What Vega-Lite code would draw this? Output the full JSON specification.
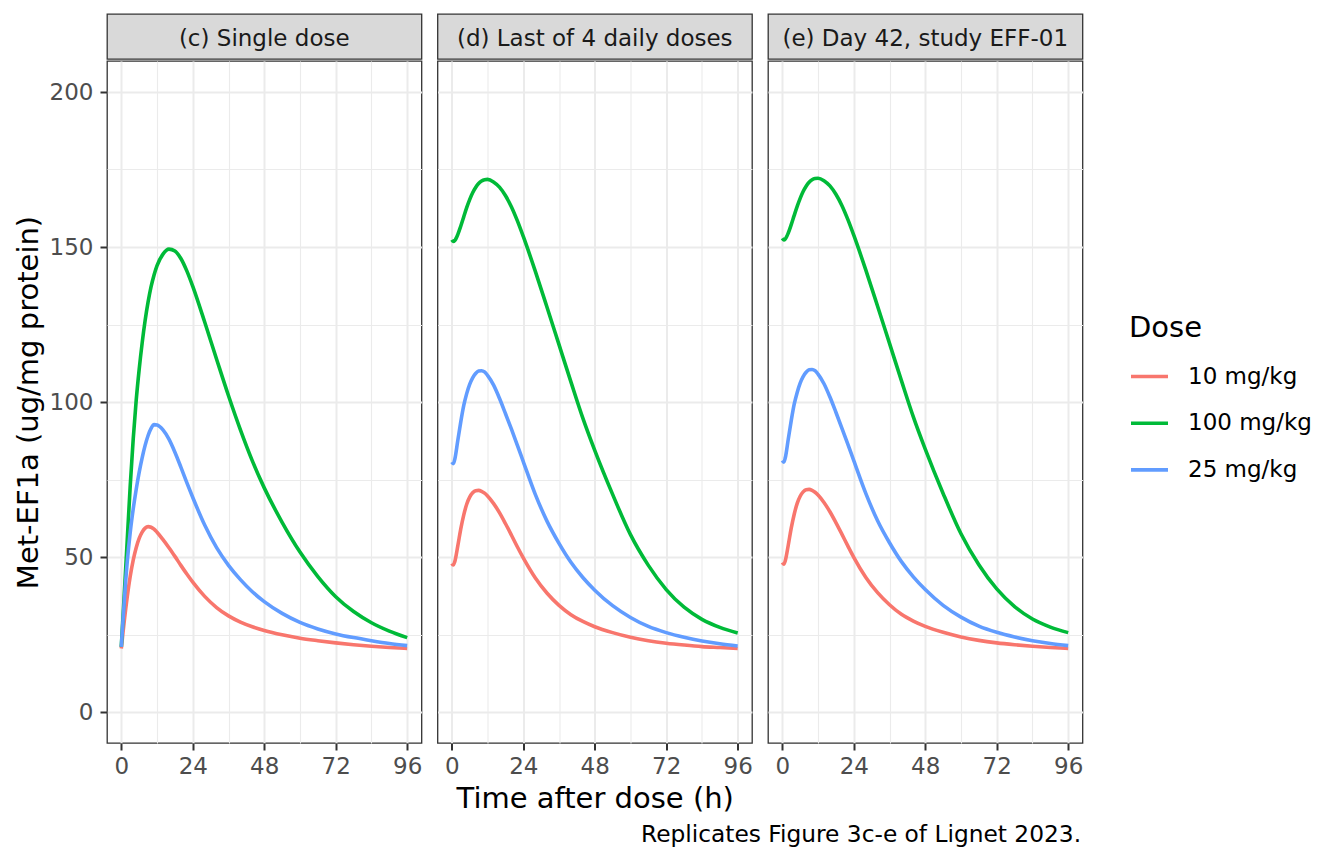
{
  "$schema": "https://vega.github.io/schema/vega-lite/v6.json",
  "padding": {"left": 13, "top": 13, "right": 10, "bottom": 5},
  "config": {
    "font": "DejaVu Sans",
    "view": {"stroke": "#333333", "strokeWidth": 1.3},
    "axis": {"labelFont": "DejaVu Sans", "titleFont": "DejaVu Sans"},
    "title": {"font": "DejaVu Sans"},
    "legend": {"labelFont": "DejaVu Sans", "titleFont": "DejaVu Sans"}
  },
  "title": {
    "text": "Replicates Figure 3c-e of Lignet 2023.", "orient": "bottom", "anchor": "start", "frame": "group",
    "dx": 534, "offset": 10, "fontSize": 23.3, "fontWeight": "normal", "color": "#000000"
  },
  "datasets": {
    "single": [
      {"dose": "10 mg/kg", "time": 0, "value": 20.5}, {"dose": "10 mg/kg", "time": 0.5, "value": 25}, {"dose": "10 mg/kg", "time": 1, "value": 29.3},
      {"dose": "10 mg/kg", "time": 2, "value": 37.2}, {"dose": "10 mg/kg", "time": 3, "value": 43.8}, {"dose": "10 mg/kg", "time": 4, "value": 49},
      {"dose": "10 mg/kg", "time": 5, "value": 53}, {"dose": "10 mg/kg", "time": 6, "value": 56}, {"dose": "10 mg/kg", "time": 7, "value": 58},
      {"dose": "10 mg/kg", "time": 8, "value": 59.3}, {"dose": "10 mg/kg", "time": 9, "value": 59.8}, {"dose": "10 mg/kg", "time": 10, "value": 59.6},
      {"dose": "10 mg/kg", "time": 11, "value": 59}, {"dose": "10 mg/kg", "time": 12, "value": 58}, {"dose": "10 mg/kg", "time": 14, "value": 55.6},
      {"dose": "10 mg/kg", "time": 16, "value": 53}, {"dose": "10 mg/kg", "time": 18, "value": 50.2}, {"dose": "10 mg/kg", "time": 20, "value": 47.3},
      {"dose": "10 mg/kg", "time": 22, "value": 44.5}, {"dose": "10 mg/kg", "time": 24, "value": 41.9}, {"dose": "10 mg/kg", "time": 28, "value": 37.3},
      {"dose": "10 mg/kg", "time": 32, "value": 33.7}, {"dose": "10 mg/kg", "time": 36, "value": 31}, {"dose": "10 mg/kg", "time": 40, "value": 29},
      {"dose": "10 mg/kg", "time": 44, "value": 27.5}, {"dose": "10 mg/kg", "time": 48, "value": 26.3}, {"dose": "10 mg/kg", "time": 54, "value": 24.9},
      {"dose": "10 mg/kg", "time": 60, "value": 23.8}, {"dose": "10 mg/kg", "time": 66, "value": 23}, {"dose": "10 mg/kg", "time": 72, "value": 22.3},
      {"dose": "10 mg/kg", "time": 78, "value": 21.7}, {"dose": "10 mg/kg", "time": 84, "value": 21.2}, {"dose": "10 mg/kg", "time": 90, "value": 20.8},
      {"dose": "10 mg/kg", "time": 96, "value": 20.5},
      {"dose": "100 mg/kg", "time": 0, "value": 21}, {"dose": "100 mg/kg", "time": 0.5, "value": 29.5}, {"dose": "100 mg/kg", "time": 1, "value": 38},
      {"dose": "100 mg/kg", "time": 2, "value": 55.5}, {"dose": "100 mg/kg", "time": 3, "value": 73}, {"dose": "100 mg/kg", "time": 4, "value": 88},
      {"dose": "100 mg/kg", "time": 5, "value": 100.5}, {"dose": "100 mg/kg", "time": 6, "value": 110.5}, {"dose": "100 mg/kg", "time": 7, "value": 119},
      {"dose": "100 mg/kg", "time": 8, "value": 126.3}, {"dose": "100 mg/kg", "time": 9, "value": 132.3}, {"dose": "100 mg/kg", "time": 10, "value": 137.2},
      {"dose": "100 mg/kg", "time": 11, "value": 141}, {"dose": "100 mg/kg", "time": 12, "value": 144}, {"dose": "100 mg/kg", "time": 14, "value": 147.7},
      {"dose": "100 mg/kg", "time": 16, "value": 149.3}, {"dose": "100 mg/kg", "time": 18, "value": 148.7}, {"dose": "100 mg/kg", "time": 20, "value": 146.3},
      {"dose": "100 mg/kg", "time": 22, "value": 142.3}, {"dose": "100 mg/kg", "time": 24, "value": 137.3}, {"dose": "100 mg/kg", "time": 28, "value": 125.8},
      {"dose": "100 mg/kg", "time": 32, "value": 113.8}, {"dose": "100 mg/kg", "time": 36, "value": 102}, {"dose": "100 mg/kg", "time": 40, "value": 91},
      {"dose": "100 mg/kg", "time": 44, "value": 81}, {"dose": "100 mg/kg", "time": 48, "value": 72.3}, {"dose": "100 mg/kg", "time": 54, "value": 61.2},
      {"dose": "100 mg/kg", "time": 60, "value": 51.6}, {"dose": "100 mg/kg", "time": 66, "value": 43.7}, {"dose": "100 mg/kg", "time": 72, "value": 37.2},
      {"dose": "100 mg/kg", "time": 78, "value": 32.4}, {"dose": "100 mg/kg", "time": 84, "value": 28.8}, {"dose": "100 mg/kg", "time": 90, "value": 26.1},
      {"dose": "100 mg/kg", "time": 96, "value": 24},
      {"dose": "25 mg/kg", "time": 0, "value": 21}, {"dose": "25 mg/kg", "time": 0.5, "value": 28.5}, {"dose": "25 mg/kg", "time": 1, "value": 35.8},
      {"dose": "25 mg/kg", "time": 2, "value": 48.5}, {"dose": "25 mg/kg", "time": 3, "value": 58}, {"dose": "25 mg/kg", "time": 4, "value": 65.5},
      {"dose": "25 mg/kg", "time": 5, "value": 71.8}, {"dose": "25 mg/kg", "time": 6, "value": 77.3}, {"dose": "25 mg/kg", "time": 7, "value": 82},
      {"dose": "25 mg/kg", "time": 8, "value": 86}, {"dose": "25 mg/kg", "time": 9, "value": 89.2}, {"dose": "25 mg/kg", "time": 10, "value": 91.5},
      {"dose": "25 mg/kg", "time": 11, "value": 92.7}, {"dose": "25 mg/kg", "time": 12, "value": 92.6}, {"dose": "25 mg/kg", "time": 14, "value": 91},
      {"dose": "25 mg/kg", "time": 16, "value": 88}, {"dose": "25 mg/kg", "time": 18, "value": 83.8}, {"dose": "25 mg/kg", "time": 20, "value": 79},
      {"dose": "25 mg/kg", "time": 22, "value": 74}, {"dose": "25 mg/kg", "time": 24, "value": 69.2}, {"dose": "25 mg/kg", "time": 28, "value": 60.3},
      {"dose": "25 mg/kg", "time": 32, "value": 53}, {"dose": "25 mg/kg", "time": 36, "value": 47.3}, {"dose": "25 mg/kg", "time": 40, "value": 42.7},
      {"dose": "25 mg/kg", "time": 44, "value": 38.8}, {"dose": "25 mg/kg", "time": 48, "value": 35.6}, {"dose": "25 mg/kg", "time": 54, "value": 31.8},
      {"dose": "25 mg/kg", "time": 60, "value": 28.9}, {"dose": "25 mg/kg", "time": 66, "value": 26.8}, {"dose": "25 mg/kg", "time": 72, "value": 25.2},
      {"dose": "25 mg/kg", "time": 78, "value": 24}, {"dose": "25 mg/kg", "time": 84, "value": 23}, {"dose": "25 mg/kg", "time": 90, "value": 22.1},
      {"dose": "25 mg/kg", "time": 96, "value": 21.4}
    ],
    "last4": [
      {"dose": "10 mg/kg", "time": 0, "value": 47.9}, {"dose": "10 mg/kg", "time": 0.5, "value": 47.4}, {"dose": "10 mg/kg", "time": 1, "value": 48.5},
      {"dose": "10 mg/kg", "time": 2, "value": 53.5}, {"dose": "10 mg/kg", "time": 3, "value": 59}, {"dose": "10 mg/kg", "time": 4, "value": 63.5},
      {"dose": "10 mg/kg", "time": 5, "value": 67}, {"dose": "10 mg/kg", "time": 6, "value": 69.3}, {"dose": "10 mg/kg", "time": 7, "value": 70.7},
      {"dose": "10 mg/kg", "time": 8, "value": 71.4}, {"dose": "10 mg/kg", "time": 9, "value": 71.5}, {"dose": "10 mg/kg", "time": 10, "value": 71.2},
      {"dose": "10 mg/kg", "time": 11, "value": 70.6}, {"dose": "10 mg/kg", "time": 12, "value": 69.7}, {"dose": "10 mg/kg", "time": 14, "value": 67.3},
      {"dose": "10 mg/kg", "time": 16, "value": 64.3}, {"dose": "10 mg/kg", "time": 18, "value": 60.8}, {"dose": "10 mg/kg", "time": 20, "value": 57.1},
      {"dose": "10 mg/kg", "time": 22, "value": 53.3}, {"dose": "10 mg/kg", "time": 24, "value": 49.7}, {"dose": "10 mg/kg", "time": 28, "value": 43.3},
      {"dose": "10 mg/kg", "time": 32, "value": 38.3}, {"dose": "10 mg/kg", "time": 36, "value": 34.4}, {"dose": "10 mg/kg", "time": 40, "value": 31.4},
      {"dose": "10 mg/kg", "time": 44, "value": 29.2}, {"dose": "10 mg/kg", "time": 48, "value": 27.5}, {"dose": "10 mg/kg", "time": 54, "value": 25.6},
      {"dose": "10 mg/kg", "time": 60, "value": 24.1}, {"dose": "10 mg/kg", "time": 66, "value": 23}, {"dose": "10 mg/kg", "time": 72, "value": 22.2},
      {"dose": "10 mg/kg", "time": 78, "value": 21.6}, {"dose": "10 mg/kg", "time": 84, "value": 21.1}, {"dose": "10 mg/kg", "time": 90, "value": 20.8},
      {"dose": "10 mg/kg", "time": 96, "value": 20.5},
      {"dose": "100 mg/kg", "time": 0, "value": 152.3}, {"dose": "100 mg/kg", "time": 0.5, "value": 151.8}, {"dose": "100 mg/kg", "time": 1, "value": 152.1},
      {"dose": "100 mg/kg", "time": 2, "value": 154}, {"dose": "100 mg/kg", "time": 3, "value": 156.7}, {"dose": "100 mg/kg", "time": 4, "value": 159.7},
      {"dose": "100 mg/kg", "time": 5, "value": 162.7}, {"dose": "100 mg/kg", "time": 6, "value": 165.3}, {"dose": "100 mg/kg", "time": 7, "value": 167.5},
      {"dose": "100 mg/kg", "time": 8, "value": 169.2}, {"dose": "100 mg/kg", "time": 9, "value": 170.5}, {"dose": "100 mg/kg", "time": 10, "value": 171.3},
      {"dose": "100 mg/kg", "time": 11, "value": 171.7}, {"dose": "100 mg/kg", "time": 12, "value": 171.8}, {"dose": "100 mg/kg", "time": 14, "value": 171},
      {"dose": "100 mg/kg", "time": 16, "value": 169.3}, {"dose": "100 mg/kg", "time": 18, "value": 166.6}, {"dose": "100 mg/kg", "time": 20, "value": 163},
      {"dose": "100 mg/kg", "time": 22, "value": 158.5}, {"dose": "100 mg/kg", "time": 24, "value": 153.4}, {"dose": "100 mg/kg", "time": 28, "value": 142.3},
      {"dose": "100 mg/kg", "time": 32, "value": 130.5}, {"dose": "100 mg/kg", "time": 36, "value": 118.5}, {"dose": "100 mg/kg", "time": 40, "value": 106.5},
      {"dose": "100 mg/kg", "time": 44, "value": 94.8}, {"dose": "100 mg/kg", "time": 48, "value": 84.4}, {"dose": "100 mg/kg", "time": 54, "value": 70.2},
      {"dose": "100 mg/kg", "time": 60, "value": 57.2}, {"dose": "100 mg/kg", "time": 66, "value": 47.3}, {"dose": "100 mg/kg", "time": 72, "value": 39.5},
      {"dose": "100 mg/kg", "time": 78, "value": 33.8}, {"dose": "100 mg/kg", "time": 84, "value": 29.9}, {"dose": "100 mg/kg", "time": 90, "value": 27.3},
      {"dose": "100 mg/kg", "time": 96, "value": 25.5},
      {"dose": "25 mg/kg", "time": 0, "value": 80.6}, {"dose": "25 mg/kg", "time": 0.5, "value": 80.1}, {"dose": "25 mg/kg", "time": 1, "value": 81.5},
      {"dose": "25 mg/kg", "time": 2, "value": 87.5}, {"dose": "25 mg/kg", "time": 3, "value": 93.5}, {"dose": "25 mg/kg", "time": 4, "value": 98.8},
      {"dose": "25 mg/kg", "time": 5, "value": 102.7}, {"dose": "25 mg/kg", "time": 6, "value": 105.7}, {"dose": "25 mg/kg", "time": 7, "value": 107.8},
      {"dose": "25 mg/kg", "time": 8, "value": 109.2}, {"dose": "25 mg/kg", "time": 9, "value": 110}, {"dose": "25 mg/kg", "time": 10, "value": 110.1},
      {"dose": "25 mg/kg", "time": 11, "value": 109.7}, {"dose": "25 mg/kg", "time": 12, "value": 108.6}, {"dose": "25 mg/kg", "time": 14, "value": 105.5},
      {"dose": "25 mg/kg", "time": 16, "value": 101.2}, {"dose": "25 mg/kg", "time": 18, "value": 96.3}, {"dose": "25 mg/kg", "time": 20, "value": 91.3},
      {"dose": "25 mg/kg", "time": 22, "value": 86.1}, {"dose": "25 mg/kg", "time": 24, "value": 80.8}, {"dose": "25 mg/kg", "time": 28, "value": 70.3},
      {"dose": "25 mg/kg", "time": 32, "value": 61.5}, {"dose": "25 mg/kg", "time": 36, "value": 54.4}, {"dose": "25 mg/kg", "time": 40, "value": 48.3},
      {"dose": "25 mg/kg", "time": 44, "value": 43.4}, {"dose": "25 mg/kg", "time": 48, "value": 39.3}, {"dose": "25 mg/kg", "time": 54, "value": 34.3},
      {"dose": "25 mg/kg", "time": 60, "value": 30.5}, {"dose": "25 mg/kg", "time": 66, "value": 27.6}, {"dose": "25 mg/kg", "time": 72, "value": 25.6},
      {"dose": "25 mg/kg", "time": 78, "value": 24.1}, {"dose": "25 mg/kg", "time": 84, "value": 22.9}, {"dose": "25 mg/kg", "time": 90, "value": 22},
      {"dose": "25 mg/kg", "time": 96, "value": 21.3}
    ],
    "day42": [
      {"dose": "10 mg/kg", "time": 0, "value": 48.2}, {"dose": "10 mg/kg", "time": 0.5, "value": 47.7}, {"dose": "10 mg/kg", "time": 1, "value": 48.8},
      {"dose": "10 mg/kg", "time": 2, "value": 53.8}, {"dose": "10 mg/kg", "time": 3, "value": 59.3}, {"dose": "10 mg/kg", "time": 4, "value": 63.8},
      {"dose": "10 mg/kg", "time": 5, "value": 67.3}, {"dose": "10 mg/kg", "time": 6, "value": 69.6}, {"dose": "10 mg/kg", "time": 7, "value": 71},
      {"dose": "10 mg/kg", "time": 8, "value": 71.7}, {"dose": "10 mg/kg", "time": 9, "value": 71.8}, {"dose": "10 mg/kg", "time": 10, "value": 71.5},
      {"dose": "10 mg/kg", "time": 11, "value": 70.9}, {"dose": "10 mg/kg", "time": 12, "value": 70}, {"dose": "10 mg/kg", "time": 14, "value": 67.6},
      {"dose": "10 mg/kg", "time": 16, "value": 64.6}, {"dose": "10 mg/kg", "time": 18, "value": 61.1}, {"dose": "10 mg/kg", "time": 20, "value": 57.4},
      {"dose": "10 mg/kg", "time": 22, "value": 53.6}, {"dose": "10 mg/kg", "time": 24, "value": 49.9}, {"dose": "10 mg/kg", "time": 28, "value": 43.5},
      {"dose": "10 mg/kg", "time": 32, "value": 38.5}, {"dose": "10 mg/kg", "time": 36, "value": 34.6}, {"dose": "10 mg/kg", "time": 40, "value": 31.5},
      {"dose": "10 mg/kg", "time": 44, "value": 29.3}, {"dose": "10 mg/kg", "time": 48, "value": 27.6}, {"dose": "10 mg/kg", "time": 54, "value": 25.7},
      {"dose": "10 mg/kg", "time": 60, "value": 24.2}, {"dose": "10 mg/kg", "time": 66, "value": 23.1}, {"dose": "10 mg/kg", "time": 72, "value": 22.3},
      {"dose": "10 mg/kg", "time": 78, "value": 21.7}, {"dose": "10 mg/kg", "time": 84, "value": 21.2}, {"dose": "10 mg/kg", "time": 90, "value": 20.8},
      {"dose": "10 mg/kg", "time": 96, "value": 20.5},
      {"dose": "100 mg/kg", "time": 0, "value": 152.8}, {"dose": "100 mg/kg", "time": 0.5, "value": 152.3}, {"dose": "100 mg/kg", "time": 1, "value": 152.6},
      {"dose": "100 mg/kg", "time": 2, "value": 154.5}, {"dose": "100 mg/kg", "time": 3, "value": 157.2}, {"dose": "100 mg/kg", "time": 4, "value": 160.2},
      {"dose": "100 mg/kg", "time": 5, "value": 163.1}, {"dose": "100 mg/kg", "time": 6, "value": 165.7}, {"dose": "100 mg/kg", "time": 7, "value": 167.9},
      {"dose": "100 mg/kg", "time": 8, "value": 169.6}, {"dose": "100 mg/kg", "time": 9, "value": 170.9}, {"dose": "100 mg/kg", "time": 10, "value": 171.7},
      {"dose": "100 mg/kg", "time": 11, "value": 172.1}, {"dose": "100 mg/kg", "time": 12, "value": 172.2}, {"dose": "100 mg/kg", "time": 14, "value": 171.4},
      {"dose": "100 mg/kg", "time": 16, "value": 169.7}, {"dose": "100 mg/kg", "time": 18, "value": 167}, {"dose": "100 mg/kg", "time": 20, "value": 163.4},
      {"dose": "100 mg/kg", "time": 22, "value": 158.9}, {"dose": "100 mg/kg", "time": 24, "value": 153.8}, {"dose": "100 mg/kg", "time": 28, "value": 142.7},
      {"dose": "100 mg/kg", "time": 32, "value": 130.9}, {"dose": "100 mg/kg", "time": 36, "value": 118.9}, {"dose": "100 mg/kg", "time": 40, "value": 106.9},
      {"dose": "100 mg/kg", "time": 44, "value": 95.2}, {"dose": "100 mg/kg", "time": 48, "value": 84.8}, {"dose": "100 mg/kg", "time": 54, "value": 70.5},
      {"dose": "100 mg/kg", "time": 60, "value": 57.5}, {"dose": "100 mg/kg", "time": 66, "value": 47.5}, {"dose": "100 mg/kg", "time": 72, "value": 39.7},
      {"dose": "100 mg/kg", "time": 78, "value": 34}, {"dose": "100 mg/kg", "time": 84, "value": 30}, {"dose": "100 mg/kg", "time": 90, "value": 27.4},
      {"dose": "100 mg/kg", "time": 96, "value": 25.6},
      {"dose": "25 mg/kg", "time": 0, "value": 81.1}, {"dose": "25 mg/kg", "time": 0.5, "value": 80.6}, {"dose": "25 mg/kg", "time": 1, "value": 82},
      {"dose": "25 mg/kg", "time": 2, "value": 88}, {"dose": "25 mg/kg", "time": 3, "value": 94}, {"dose": "25 mg/kg", "time": 4, "value": 99.3},
      {"dose": "25 mg/kg", "time": 5, "value": 103.1}, {"dose": "25 mg/kg", "time": 6, "value": 106.1}, {"dose": "25 mg/kg", "time": 7, "value": 108.2},
      {"dose": "25 mg/kg", "time": 8, "value": 109.6}, {"dose": "25 mg/kg", "time": 9, "value": 110.4}, {"dose": "25 mg/kg", "time": 10, "value": 110.5},
      {"dose": "25 mg/kg", "time": 11, "value": 110.1}, {"dose": "25 mg/kg", "time": 12, "value": 109}, {"dose": "25 mg/kg", "time": 14, "value": 105.9},
      {"dose": "25 mg/kg", "time": 16, "value": 101.6}, {"dose": "25 mg/kg", "time": 18, "value": 96.7}, {"dose": "25 mg/kg", "time": 20, "value": 91.6},
      {"dose": "25 mg/kg", "time": 22, "value": 86.4}, {"dose": "25 mg/kg", "time": 24, "value": 81.1}, {"dose": "25 mg/kg", "time": 28, "value": 70.6},
      {"dose": "25 mg/kg", "time": 32, "value": 61.7}, {"dose": "25 mg/kg", "time": 36, "value": 54.6}, {"dose": "25 mg/kg", "time": 40, "value": 48.5},
      {"dose": "25 mg/kg", "time": 44, "value": 43.6}, {"dose": "25 mg/kg", "time": 48, "value": 39.5}, {"dose": "25 mg/kg", "time": 54, "value": 34.4},
      {"dose": "25 mg/kg", "time": 60, "value": 30.6}, {"dose": "25 mg/kg", "time": 66, "value": 27.7}, {"dose": "25 mg/kg", "time": 72, "value": 25.7},
      {"dose": "25 mg/kg", "time": 78, "value": 24.2}, {"dose": "25 mg/kg", "time": 84, "value": 23}, {"dose": "25 mg/kg", "time": 90, "value": 22.1},
      {"dose": "25 mg/kg", "time": 96, "value": 21.4}
    ]
  },
  "spacing": 13.5,
  "hconcat": [
    {
      "spacing": 0,
      "vconcat": [
        {
          "width": 314.5, "height": 45,
          "view": {"fill": "#D9D9D9", "stroke": "#333333", "strokeWidth": 1.3},
          "data": {"values": [{"label": "(c) Single dose"}]},
          "mark": {"type": "text", "fontSize": 23, "color": "#1A1A1A", "dy": 2},
          "encoding": {"text": {"field": "label", "type": "nominal"}}
        },
        {
          "width": 314.5, "height": 682,
          "data": {"name": "single"},
          "mark": {"type": "line", "strokeWidth": 3.6, "interpolate": "monotone"},
          "encoding": {
            "x": {
              "field": "time", "type": "quantitative",
              "scale": {"domain": [-4.8, 100.8], "nice": false, "zero": false},
              "axis": {
                "values": [0, 12, 24, 36, 48, 60, 72, 84, 96],
                "labelExpr": "datum.value % 24 === 0 ? datum.label : ''",
                "grid": true, "gridColor": "#EBEBEB",
                "gridWidth": {"condition": {"test": "datum.value % 24 === 0", "value": 2}, "value": 1.1},
                "domain": false, "tickColor": "#333333", "tickWidth": 2, "tickSize": 7,
                "tickOpacity": {"condition": {"test": "datum.value % 24 === 0", "value": 1}, "value": 0},
                "labelFontSize": 23, "labelColor": "#4D4D4D", "labelPadding": 5,
                "labelFlush": false, "labelOverlap": false, "title": null
              }
            },
            "y": {
              "field": "value", "type": "quantitative",
              "scale": {"domain": [-10, 210], "nice": false, "zero": false},
              "axis": {
                "values": [0, 25, 50, 75, 100, 125, 150, 175, 200],
                "labelExpr": "datum.value % 50 === 0 ? datum.label : ''",
                "grid": true, "gridColor": "#EBEBEB",
                "gridWidth": {"condition": {"test": "datum.value % 50 === 0", "value": 2}, "value": 1.1},
                "domain": false, "tickColor": "#333333", "tickWidth": 2, "tickSize": 7,
                "tickOpacity": {"condition": {"test": "datum.value % 50 === 0", "value": 1}, "value": 0},
                "labelFontSize": 23, "labelColor": "#4D4D4D", "labelPadding": 7,
                "labelOverlap": false,
                "title": "Met-EF1a (ug/mg protein)", "titleFontSize": 29, "titleFontWeight": "normal",
                "titleColor": "#000000", "titlePadding": 6
              }
            },
            "color": {
              "field": "dose", "type": "nominal",
              "scale": {"domain": ["10 mg/kg", "100 mg/kg", "25 mg/kg"], "range": ["#F8766D", "#00BA38", "#619CFF"]},
              "legend": {
                "title": "Dose", "orient": "none", "legendX": 1022, "legendY": 300,
                "symbolType": "stroke", "symbolSize": 1369, "symbolStrokeWidth": 3.6,
                "labelOffset": 18, "rowPadding": 13.7, "titlePadding": 13,
                "titleFontSize": 29, "titleFontWeight": "normal", "titleColor": "#000000",
                "labelFontSize": 23, "labelColor": "#000000"
              }
            }
          }
        }
      ]
    },
    {
      "spacing": 0,
      "vconcat": [
        {
          "width": 314.5, "height": 45,
          "view": {"fill": "#D9D9D9", "stroke": "#333333", "strokeWidth": 1.3},
          "data": {"values": [{"label": "(d) Last of 4 daily doses"}]},
          "mark": {"type": "text", "fontSize": 23, "color": "#1A1A1A", "dy": 2},
          "encoding": {"text": {"field": "label", "type": "nominal"}}
        },
        {
          "width": 314.5, "height": 682,
          "data": {"name": "last4"},
          "mark": {"type": "line", "strokeWidth": 3.6, "interpolate": "monotone"},
          "encoding": {
            "x": {
              "field": "time", "type": "quantitative",
              "scale": {"domain": [-4.8, 100.8], "nice": false, "zero": false},
              "axis": {
                "values": [0, 12, 24, 36, 48, 60, 72, 84, 96],
                "labelExpr": "datum.value % 24 === 0 ? datum.label : ''",
                "grid": true, "gridColor": "#EBEBEB",
                "gridWidth": {"condition": {"test": "datum.value % 24 === 0", "value": 2}, "value": 1.1},
                "domain": false, "tickColor": "#333333", "tickWidth": 2, "tickSize": 7,
                "tickOpacity": {"condition": {"test": "datum.value % 24 === 0", "value": 1}, "value": 0},
                "labelFontSize": 23, "labelColor": "#4D4D4D", "labelPadding": 5,
                "labelFlush": false, "labelOverlap": false,
                "title": "Time after dose (h)", "titleFontSize": 29, "titleFontWeight": "normal",
                "titleColor": "#000000", "titlePadding": 6
              }
            },
            "y": {
              "field": "value", "type": "quantitative",
              "scale": {"domain": [-10, 210], "nice": false, "zero": false},
              "axis": {
                "values": [0, 25, 50, 75, 100, 125, 150, 175, 200],
                "labels": false, "ticks": false, "domain": false, "title": null,
                "grid": true, "gridColor": "#EBEBEB",
                "gridWidth": {"condition": {"test": "datum.value % 50 === 0", "value": 2}, "value": 1.1}
              }
            },
            "color": {
              "field": "dose", "type": "nominal",
              "scale": {"domain": ["10 mg/kg", "100 mg/kg", "25 mg/kg"], "range": ["#F8766D", "#00BA38", "#619CFF"]},
              "legend": {
                "title": "Dose", "orient": "none", "legendX": 1022, "legendY": 300,
                "symbolType": "stroke", "symbolSize": 1369, "symbolStrokeWidth": 3.6,
                "labelOffset": 18, "rowPadding": 13.7, "titlePadding": 13,
                "titleFontSize": 29, "titleFontWeight": "normal", "titleColor": "#000000",
                "labelFontSize": 23, "labelColor": "#000000"
              }
            }
          }
        }
      ]
    },
    {
      "spacing": 0,
      "vconcat": [
        {
          "width": 314.5, "height": 45,
          "view": {"fill": "#D9D9D9", "stroke": "#333333", "strokeWidth": 1.3},
          "data": {"values": [{"label": "(e) Day 42, study EFF-01"}]},
          "mark": {"type": "text", "fontSize": 23, "color": "#1A1A1A", "dy": 2},
          "encoding": {"text": {"field": "label", "type": "nominal"}}
        },
        {
          "width": 314.5, "height": 682,
          "data": {"name": "day42"},
          "mark": {"type": "line", "strokeWidth": 3.6, "interpolate": "monotone"},
          "encoding": {
            "x": {
              "field": "time", "type": "quantitative",
              "scale": {"domain": [-4.8, 100.8], "nice": false, "zero": false},
              "axis": {
                "values": [0, 12, 24, 36, 48, 60, 72, 84, 96],
                "labelExpr": "datum.value % 24 === 0 ? datum.label : ''",
                "grid": true, "gridColor": "#EBEBEB",
                "gridWidth": {"condition": {"test": "datum.value % 24 === 0", "value": 2}, "value": 1.1},
                "domain": false, "tickColor": "#333333", "tickWidth": 2, "tickSize": 7,
                "tickOpacity": {"condition": {"test": "datum.value % 24 === 0", "value": 1}, "value": 0},
                "labelFontSize": 23, "labelColor": "#4D4D4D", "labelPadding": 5,
                "labelFlush": false, "labelOverlap": false, "title": null
              }
            },
            "y": {
              "field": "value", "type": "quantitative",
              "scale": {"domain": [-10, 210], "nice": false, "zero": false},
              "axis": {
                "values": [0, 25, 50, 75, 100, 125, 150, 175, 200],
                "labels": false, "ticks": false, "domain": false, "title": null,
                "grid": true, "gridColor": "#EBEBEB",
                "gridWidth": {"condition": {"test": "datum.value % 50 === 0", "value": 2}, "value": 1.1}
              }
            },
            "color": {
              "field": "dose", "type": "nominal",
              "scale": {"domain": ["10 mg/kg", "100 mg/kg", "25 mg/kg"], "range": ["#F8766D", "#00BA38", "#619CFF"]},
              "legend": {
                "title": "Dose", "orient": "none", "legendX": 1022, "legendY": 300,
                "symbolType": "stroke", "symbolSize": 1369, "symbolStrokeWidth": 3.6,
                "labelOffset": 18, "rowPadding": 13.7, "titlePadding": 13,
                "titleFontSize": 29, "titleFontWeight": "normal", "titleColor": "#000000",
                "labelFontSize": 23, "labelColor": "#000000"
              }
            }
          }
        }
      ]
    }
  ]
}
